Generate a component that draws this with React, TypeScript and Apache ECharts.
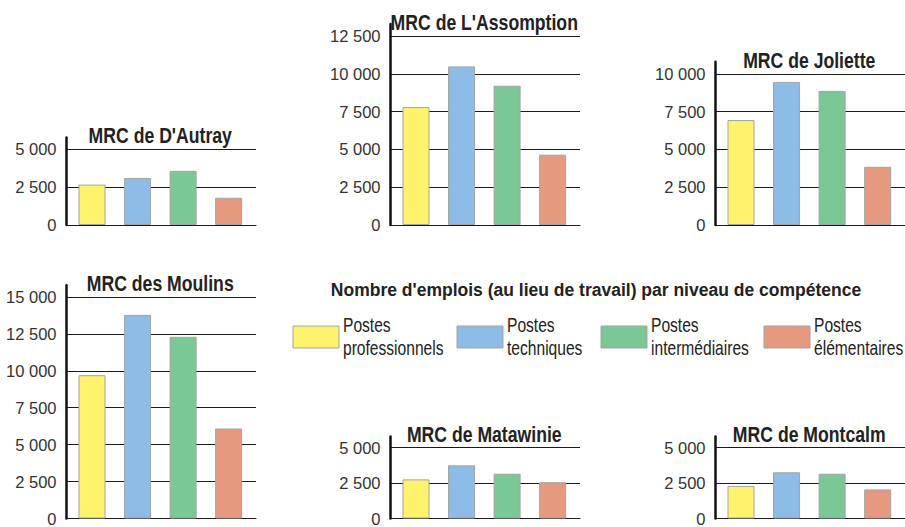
import { useEffect, useRef } from 'react';
import * as echarts from 'echarts';

// ---- data ----
const levels = ['Postes professionnels', 'Postes techniques', 'Postes intermédiaires', 'Postes élémentaires'];
const levelColors = ['#FFF36D', '#8DBCE6', '#7BC897', '#E59A80'];
const panelTitles = ["MRC de D'Autray", "MRC de L'Assomption", 'MRC de Joliette', 'MRC des Moulins', 'MRC de Matawinie', 'MRC de Montcalm'];
const dAutray = [2670, 3110, 3580, 1800];
const lAssomption = [7800, 10490, 9210, 4650];
const joliette = [6940, 9460, 8870, 3850];
const desMoulins = [9700, 13780, 12300, 6090];
const matawinie = [2760, 3750, 3160, 2560];
const montcalm = [2300, 3260, 3160, 2050];
const panelValues = [dAutray, lAssomption, joliette, desMoulins, matawinie, montcalm];
const panelMax = [5000, 12500, 10000, 15000, 5000, 5000];
const tickStep = 2500;
const mainTitle = "Nombre d'emplois (au lieu de travail) par niveau de compétence";

// ---- layout ----
const colLeft = [66.5, 390.5, 715.5];
const gridW = 189.5;
const rowBottom = [225, 524];
const pxPerUnit = 37.8 / 2500;
const extPx = 12;
const slotStart = 0.56; // x-domain offset of the first bar slot
const slotSpan = 4.16;  // x-domain width of a panel
const font = "'Liberation Sans', Arial, sans-serif";
const titleFs = 21.5;
const narrowScale = 0.82;
const legendLeft = [293, 457, 601, 764];
const legendTop = 326;
const legendFs = 20;

const fmt = (v: number) => String(v).replace(/\B(?=(\d{3})+(?!\d))/g, ' ');

export default function App() {
  const ref = useRef<HTMLDivElement>(null);
  useEffect(() => {
    if (!ref.current) return;
    const chart = echarts.init(ref.current, undefined, { renderer: 'svg' });
    const grids: any[] = [];
    const xAxes: any[] = [];
    const yAxes: any[] = [];
    const series: any[] = [];
    const graphics: any[] = [];
    panelValues.forEach((vals, p) => {
      const col = p % 3;
      const row = p < 3 ? 0 : 1;
      const h = panelMax[p] * pxPerUnit;
      const top = rowBottom[row] - h - extPx;
      grids.push({ left: colLeft[col], width: gridW, top, height: h + extPx });
      xAxes.push({
        type: 'value', gridIndex: p, min: 0, max: slotSpan,
        axisLine: { show: true, lineStyle: { color: '#1a1a1a', width: 1 } },
        axisTick: { show: false }, axisLabel: { show: false }, splitLine: { show: false },
      });
      yAxes.push({
        type: 'value', gridIndex: p, min: 0, max: panelMax[p] + extPx / pxPerUnit, interval: tickStep,
        axisLine: { show: true, onZero: false, lineStyle: { color: '#111111', width: 2.5 } },
        axisTick: { show: false },
        axisLabel: { showMaxLabel: false, formatter: (v: number) => fmt(v), color: '#333', fontSize: 16.5, fontFamily: font, margin: 10 },
        splitLine: { show: true, showMaxLine: false, lineStyle: { color: '#1a1a1a', width: 1 } },
      });
      vals.forEach((v, j) => {
        series.push({
          type: 'bar', name: levels[j], xAxisIndex: p, yAxisIndex: p, stack: 'p' + p,
          barWidth: 27, data: [[slotStart + j, v]],
          itemStyle: { color: levelColors[j], borderColor: '#a3a3a3', borderWidth: 1 },
          emphasis: { disabled: true },
        });
      });
      const baseline = rowBottom[row] - h - 6.5;
      graphics.push({
        type: 'text', x: colLeft[col] + gridW / 2 - 1, y: baseline - 0.3465 * titleFs, scaleX: narrowScale,
        style: {
          text: panelTitles[p], fontSize: titleFs, fontWeight: 'bold', fontFamily: font, fill: '#222',
          textAlign: 'center', textVerticalAlign: 'middle',
        },
      });
    });
    levels.forEach((name, j) => {
      graphics.push({
        type: 'rect', x: legendLeft[j], y: legendTop,
        shape: { x: 0, y: 0, width: 46, height: 22 },
        style: { fill: levelColors[j], stroke: '#a3a3a3', lineWidth: 1 },
      });
      graphics.push({
        type: 'text', x: legendLeft[j] + 50, y: legendTop + 11, scaleX: 0.78,
        style: {
          text: name.replace(' ', '\n'), fontSize: legendFs, lineHeight: 23.5, fontFamily: font, fill: '#222',
          textAlign: 'left', textVerticalAlign: 'middle',
        },
      });
    });
    chart.setOption({
      animation: false,
      backgroundColor: '#ffffff',
      title: {
        text: mainTitle, left: 596, top: 295.7 - 0.85 * 17.5, textAlign: 'center', padding: 0,
        textStyle: { fontSize: 17.5, fontWeight: 'bold', fontFamily: font, color: '#222', lineHeight: 17.5 },
      },
      grid: grids,
      xAxis: xAxes,
      yAxis: yAxes,
      series,
      graphic: graphics,
    });
    return () => chart.dispose();
  }, []);
  return <div ref={ref} style={{ position: 'fixed', left: 0, top: 0, width: 905, height: 527 }} />;
}
